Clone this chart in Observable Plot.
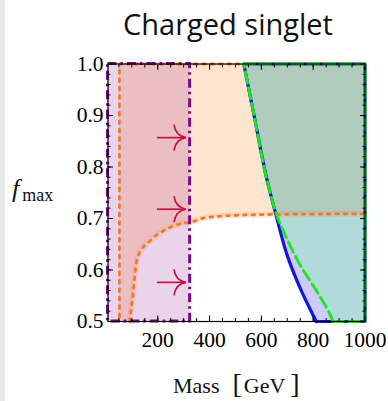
<!DOCTYPE html>
<html><head><meta charset="utf-8">
<script src="https://cdn.jsdelivr.net/npm/d3@7"></script>
<script src="https://cdn.jsdelivr.net/npm/@observablehq/plot@0.6"></script>
<style>body{margin:0;background:#fff;overflow:hidden}</style>
</head><body><div id="chart"></div>
<script>
// ---- data ----
const massDomain = [8, 1000];
const fDomain = [0.5, 1.0];
const xMajorTicks = [200, 400, 600, 800, 1000];
const yMajorTicks = [0.5, 0.6, 0.7, 0.8, 0.9, 1.0];
const xMinorTicks = d3.range(50, 1000, 50);
const yMinorTicks = d3.range(0.52, 1.0, 0.02);

// purple excluded band (M below this mass)
const purpleEdge = 325;
// orange bound: vertical edge + curve
const orangeEdge = 52;
const orangeMass = [92, 102, 122, 173, 225, 289, 328, 380, 495, 664, 1000];
const orangeF    = [0.5, 0.541, 0.625, 0.658, 0.677, 0.690, 0.693, 0.701, 0.706, 0.708, 0.709];
// blue bound (solid)
const blueF    = [0.5, 0.560, 0.625, 0.706, 0.768, 0.897, 1.0];
const blueMass = [812, 754, 702, 657, 625, 573, 532];
// green bound (dashed)
const greenF    = [0.5, 0.508, 0.560, 0.606, 0.671, 0.703, 0.768, 0.897, 1.0];
const greenMass = [876, 870, 812, 754, 689, 662, 625, 573, 532];
// arrows
const arrowF = [0.857, 0.718, 0.576];
const arrowFrom = 199, arrowTo = 309;

const title = "Charged singlet";

// ---- colours ----
const cPurple = "#7a0a8a", cOrange = "#f07a2a", cBlue = "#1414e0", cGreen = "#1ee61e", cArrow = "#c8104a";

const idx = a => d3.range(a.length);
const xMin = massDomain[0], xMax = massDomain[1], yMin = fDomain[0], yMax = fDomain[1];
const orangeAreaMass = [orangeEdge, ...orangeMass];
const orangeAreaF = [yMin, ...orangeF];

// open, curved arrow head (like a TeX \rightarrow), tip at the point
const arrowHead = {
  draw(context, size) {
    const s = Math.sqrt(size / Math.PI);
    context.moveTo(-0.92 * s, -s);
    context.quadraticCurveTo(-0.8 * s, -0.12 * s, 0, 0);
    context.moveTo(-0.92 * s, s);
    context.quadraticCurveTo(-0.8 * s, 0.12 * s, 0, 0);
  }
};

const chart = Plot.plot({
  width: 388, height: 401,
  marginLeft: 107.5, marginRight: 23.5, marginTop: 63.5, marginBottom: 80,
  x: {domain: massDomain},
  y: {domain: fDomain},
  style: {fontFamily: "Liberation Serif", fontSize: "21.5px", color: "black", background: "white"},
  marks: [
    // fills
    Plot.areaY(idx(orangeAreaMass), {x: orangeAreaMass, y1: orangeAreaF, y2: () => yMax, fill: "#ff7f0e", fillOpacity: 0.2, curve: "monotone-x"}),
    Plot.rect([0], {x1: () => xMin, x2: () => purpleEdge, y1: () => yMin, y2: () => yMax, fill: "#800080", fillOpacity: 0.17}),
    Plot.areaX(idx(blueF), {y: blueF, x1: blueMass, x2: () => xMax, fill: "#0000ff", fillOpacity: 0.2, curve: "monotone-y"}),
    Plot.areaX(idx(greenF), {y: greenF, x1: greenMass, x2: () => xMax, fill: "#70ff80", fillOpacity: 0.3, curve: "monotone-y"}),
    // orange boundary (halo + dots)
    Plot.line(idx(orangeMass), {x: orangeMass, y: orangeF, stroke: "#ff8c40", strokeWidth: 6, strokeOpacity: 0.2, curve: "monotone-x"}),
    Plot.line(idx(orangeMass), {x: orangeMass, y: orangeF, stroke: cOrange, strokeWidth: 2.8, strokeDasharray: "2.8 5.6", curve: "monotone-x"}),
    Plot.line([0, 1, 2], {x: [xMax, orangeEdge, orangeEdge], y: [yMax, yMax, yMin], stroke: cOrange, strokeWidth: 2.8, strokeDasharray: "2.8 5.6"}),
    // blue boundary
    Plot.line(idx(blueF), {x: blueMass, y: blueF, stroke: cBlue, strokeWidth: 3.2, curve: "monotone-y"}),
    Plot.line([0, 1, 2, 3], {x: [blueMass[0], xMax, xMax, blueMass[blueMass.length - 1]], y: [yMin, yMin, yMax, yMax], stroke: cBlue, strokeWidth: 3.2}),
    // green boundary
    Plot.line(idx(greenF), {x: greenMass, y: greenF, stroke: cGreen, strokeWidth: 3, strokeDasharray: "11 5", curve: "monotone-y"}),
    Plot.line([0, 1, 2, 3], {x: [greenMass[0], xMax, xMax, greenMass[greenMass.length - 1]], y: [yMin, yMin, yMax, yMax], stroke: cGreen, strokeWidth: 3, strokeDasharray: "11 5"}),
    // purple boundary
    Plot.rect([0], {x1: () => xMin, x2: () => purpleEdge, y1: () => yMin, y2: () => yMax, fill: "none", stroke: cPurple, strokeWidth: 3, strokeDasharray: "9 4 2.5 4"}),
    // arrows: shaft + curved head
    Plot.ruleY(arrowF, {x1: () => arrowFrom, x2: () => arrowTo, stroke: cArrow, strokeWidth: 1.7}),
    Plot.dot(arrowF, {x: () => arrowTo, y: d => d, r: 13, symbol: arrowHead, stroke: cArrow, fill: "none", strokeWidth: 1.7}),
    // frame & ticks
    Plot.frame({stroke: "black", strokeWidth: 1.2}),
    Plot.axisX(xMinorTicks, {anchor: "bottom", tickSize: -3, tickFormat: () => "", label: null}),
    Plot.axisX(xMinorTicks, {anchor: "top", tickSize: -3, tickFormat: () => "", label: null}),
    Plot.axisX(xMajorTicks, {anchor: "bottom", tickSize: -5.5, tickPadding: 16, tickFormat: d => String(d), label: null}),
    Plot.axisX(xMajorTicks, {anchor: "top", tickSize: -5.5, tickFormat: () => "", label: null}),
    Plot.axisY(yMinorTicks, {anchor: "left", tickSize: -3, tickFormat: () => "", label: null}),
    Plot.axisY(yMinorTicks, {anchor: "right", tickSize: -3, tickFormat: () => "", label: null}),
    Plot.axisY(yMajorTicks, {anchor: "left", tickSize: -5.5, tickPadding: 10, tickFormat: d3.format(".1f"), label: null}),
    Plot.axisY(yMajorTicks, {anchor: "right", tickSize: -5.5, tickFormat: () => "", label: null})
  ]
});

const svg = d3.select(chart);
// faint screenshot edge on the left
svg.insert("rect", ":first-child").attr("x", 0).attr("y", 0).attr("width", 5).attr("height", 401).attr("fill", "#e9e9e9");

svg.append("text").attr("x", 228).attr("y", 35).attr("text-anchor", "middle")
  .attr("font-family", "Open Sans").attr("font-weight", 500).attr("font-size", 29).attr("fill", "#111").text(title);

const xl = svg.append("text").attr("x", 173).attr("y", 393).attr("text-anchor", "start")
  .attr("font-family", "Liberation Serif").attr("font-size", 22).attr("fill", "#111");
xl.append("tspan").text("Mass");
xl.append("tspan").attr("dx", 13).attr("font-size", 28).text("[");
xl.append("tspan").attr("dx", 2).text("GeV");
xl.append("tspan").attr("dx", 5).attr("font-size", 28).text("]");

const yl = svg.append("text").attr("x", 12).attr("y", 197).attr("text-anchor", "start")
  .attr("font-family", "Liberation Serif").attr("fill", "#111");
yl.append("tspan").attr("font-style", "italic").attr("font-size", 26).text("f");
yl.append("tspan").attr("dx", 3).attr("dy", 4).attr("font-size", 18).text("max");

document.getElementById("chart").appendChild(chart);
</script>
</body></html>
